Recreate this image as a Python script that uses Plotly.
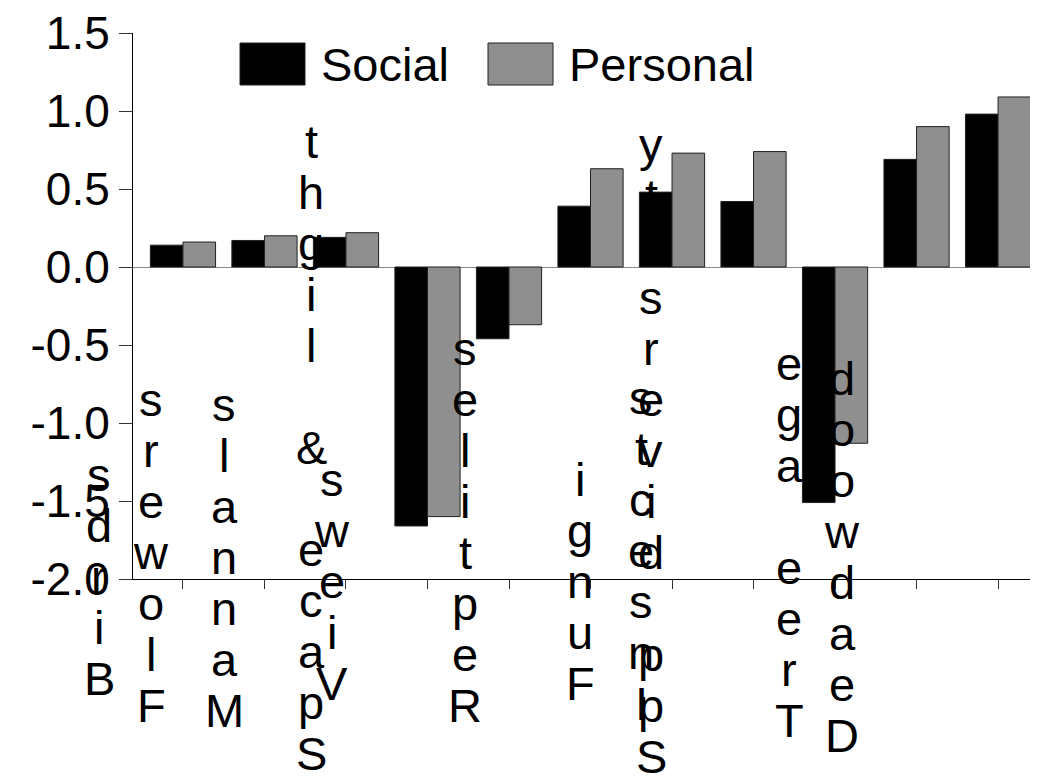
import plotly.graph_objects as go

categories = ["Birds", "Flowers", "Mannals", "Space & light", "Views", "Reptiles",
              "Fungi", "Insects", "Spp diversity", "Tree age", "Deadwood"]
social = [0.14, 0.17, 0.19, -1.66, -0.46, 0.39, 0.48, 0.42, -1.51, 0.69, 0.98]
personal = [0.16, 0.20, 0.22, -1.60, -0.37, 0.63, 0.73, 0.74, -1.13, 0.90, 1.09]
series_names = ["Social", "Personal"]
y_ticks = [-2.0, -1.5, -1.0, -0.5, 0.0, 0.5, 1.0, 1.5]

# where each stacked (reversed) category label sits, in page pixels:
# centre x and baseline of the lowest letter
label_x_px = [99, 151, 224, 311, 332, 465, 580, 641, 651, 789, 842]
label_base_px = [695, 722, 727, 770, 700, 722, 700, 720, 773, 737, 752]

# the page body has an 8px margin, so the figure is drawn 8px smaller
OFF = 8
W, H = 1038 - OFF, 782 - OFF
L, R, T, B = 133, 1038, 33, 579   # plot area in page pixels
STEP = 51
FONT = "Liberation Sans, Arial, sans-serif"
BLACK = "#000000"
GREY = "#8f8f8f"


def px_x(x):
    return (x - L) / (R - L)


def px_y(y):
    return (B - y) / (B - T)


fig = go.Figure()
fig.add_trace(go.Bar(x=categories, y=social, name=series_names[0],
                     marker=dict(color=BLACK, line=dict(color="#222", width=1))))
fig.add_trace(go.Bar(x=categories, y=personal, name=series_names[1],
                     marker=dict(color=GREY, line=dict(color="#222", width=1))))

annotations = []
for name, xp, base in zip(categories, label_x_px, label_base_px):
    letters = list(reversed(name))
    n = len(letters)
    for j, ch in enumerate(letters):
        if ch == " ":
            continue
        baseline = base - (n - 1 - j) * STEP
        annotations.append(dict(
            x=px_x(xp), y=px_y(baseline), xref="paper", yref="paper",
            text=ch, showarrow=False, xanchor="center", yanchor="bottom",
            yshift=-12, font=dict(family=FONT, size=47, color="black")))

# legend drawn by hand, the boxes are much bigger than plotly's swatches
shapes = []
for (x0, x1), col, label in zip([(240, 305), (488, 553)], [BLACK, GREY], series_names):
    shapes.append(dict(type="rect", xref="paper", yref="paper",
                       x0=px_x(x0), x1=px_x(x1), y0=px_y(85), y1=px_y(43),
                       fillcolor=col, line=dict(color="#222", width=1)))
    annotations.append(dict(x=px_x(x1 + 14), y=px_y(64), xref="paper", yref="paper",
                            text=label, showarrow=False, xanchor="left",
                            yanchor="middle",
                            font=dict(family=FONT, size=47, color="black")))

fig.update_layout(
    template="none",
    width=W, height=H,
    margin=dict(l=L - OFF, r=1038 - R, t=T - OFF, b=782 - B, pad=0),
    paper_bgcolor="white", plot_bgcolor="white",
    barmode="group", bargap=0.2, bargroupgap=0,
    showlegend=False,
    font=dict(family=FONT, size=46, color="black"),
    annotations=annotations,
    shapes=shapes,
    xaxis=dict(
        type="category",
        range=[-0.613, 10.49],
        automargin=False,
        showticklabels=False,
        ticks="outside", ticklen=9, tickcolor="#333", tickwidth=1,
        showline=True, linecolor="black", linewidth=1,
        showgrid=False, zeroline=False,
    ),
    yaxis=dict(
        range=[-2.0, 1.5],
        automargin=False,
        tickvals=y_ticks,
        ticktext=["%.1f" % v for v in y_ticks],
        ticklabeloverflow="allow",
        ticks="outside", ticklen=13, tickcolor="#333", tickwidth=1,
        showline=True, linecolor="black", linewidth=1,
        showgrid=False,
        zeroline=True, zerolinecolor="#888", zerolinewidth=1,
        tickfont=dict(family=FONT, size=46, color="black"),
    ),
)

fig.write_html("out.html")
